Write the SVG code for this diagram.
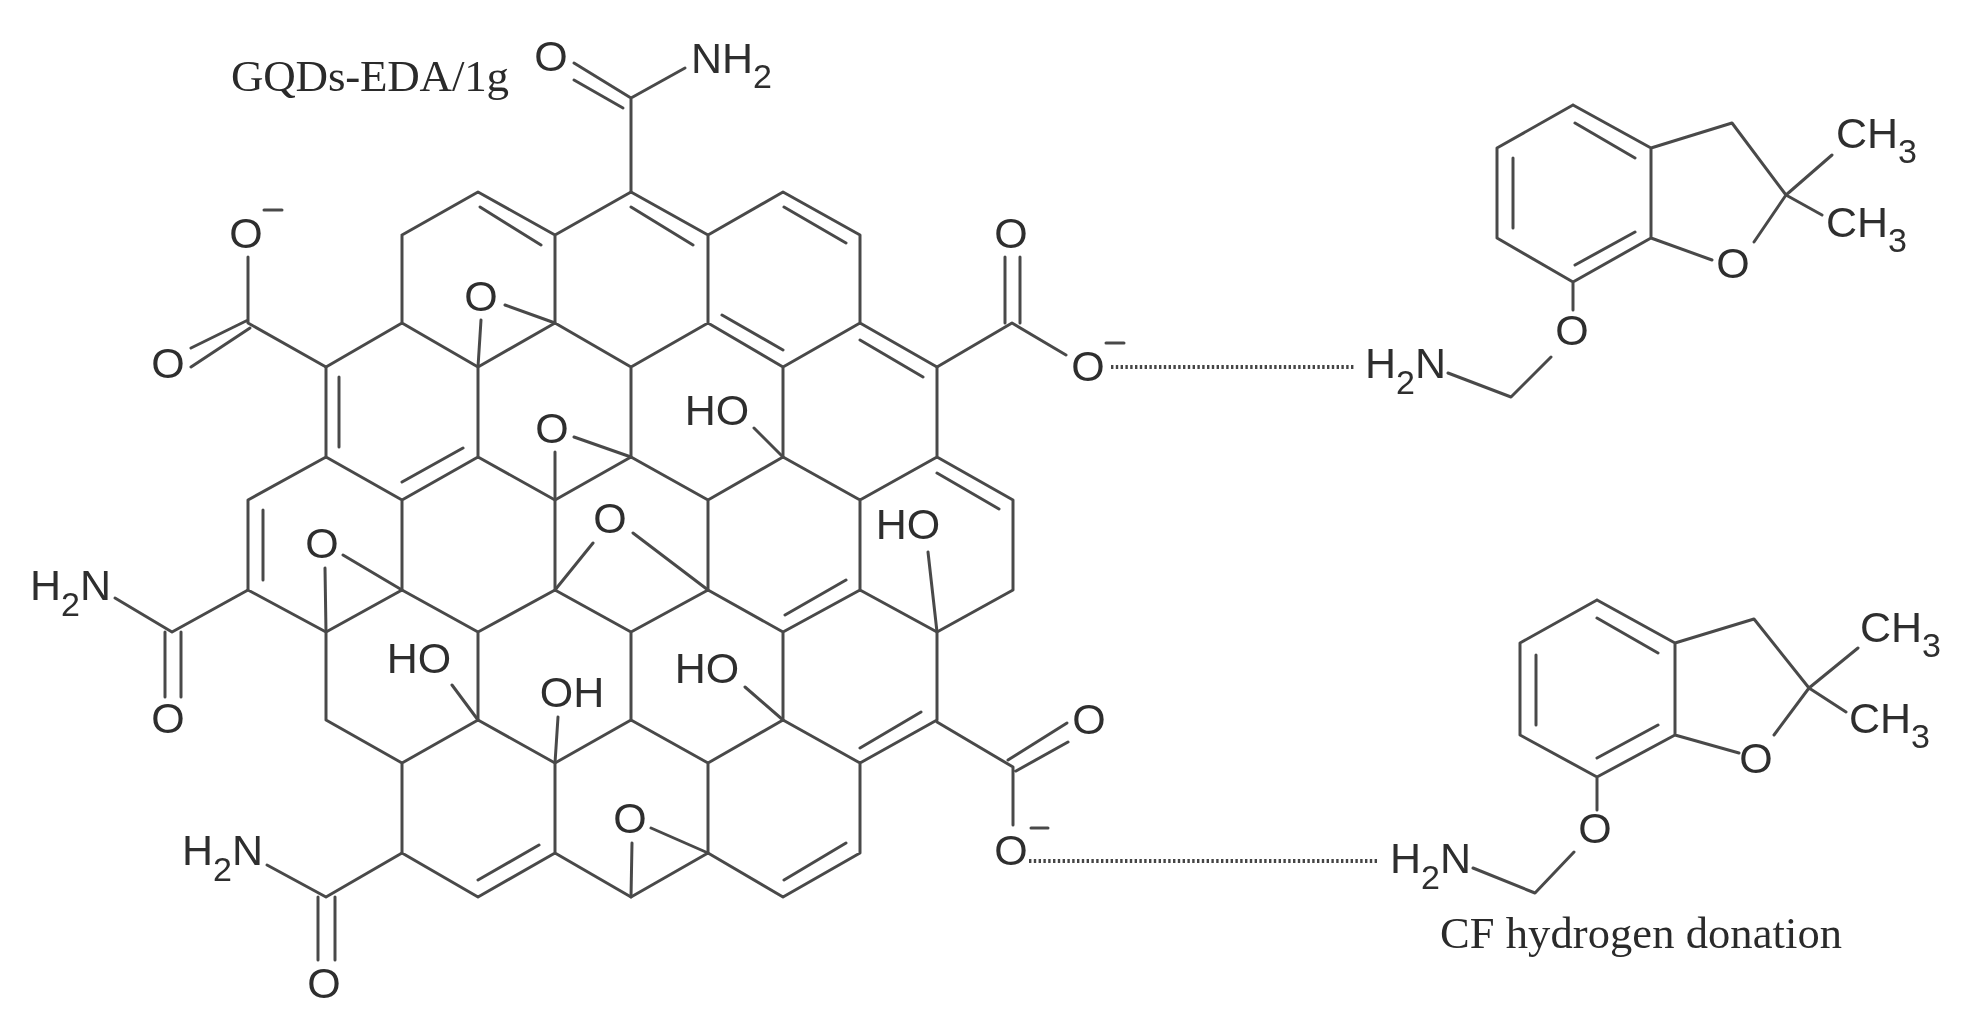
<svg xmlns="http://www.w3.org/2000/svg" width="1970" height="1023" viewBox="0 0 1970 1023">
<style>
.b{fill:none;stroke:#4a4a4a;stroke-width:3;stroke-linecap:round;stroke-linejoin:round}
.d{fill:none;stroke:#444;stroke-width:4.2;stroke-dasharray:2.4 2.4}
text{font-family:"Liberation Sans",Arial,sans-serif;font-size:43px;fill:#2e2e2e}
.m{text-anchor:middle}
.s{font-size:34px}
.c{font-family:"Liberation Serif","Times New Roman",serif;fill:#2a2a2a}
</style>
<defs><filter id="soft" x="0" y="0" width="1" height="1" filterUnits="objectBoundingBox"><feGaussianBlur stdDeviation="0.55"/></filter></defs>
<rect width="1970" height="1023" fill="#fff"/>
<g filter="url(#soft)">
<g id="gqd-lattice">
<path class="b" d="M402 235L478 192L555 235L631 192L708 235L783 192L860 235L860 323L937 367L937 457L1013 500L1013 590L937 632L860 590L860 500L937 457M860 323L783 367L708 323L631 367L555 323L478 367L402 323L402 235M555 235L555 323M708 235L708 323M402 323L326 367L326 457L402 500L478 457L478 367M783 367L783 457L860 500M631 367L631 457L708 500L783 457M478 457L555 500L631 457M326 457L248 500L248 590L326 632L402 590L402 500M555 500L555 590L478 632L402 590M708 500L708 590L631 632L555 590M708 590L783 632L860 590M937 632L937 720L860 763L860 853L783 897L708 853L708 763L783 720L783 632M326 632L326 720L402 763L478 720L478 632M478 720L555 763L631 720L631 632M631 720L708 763M783 720L860 763M402 763L402 853L478 897L555 853L555 763M555 853L631 897L708 853"/>
<path class="b" d="M480 207L541 245M631 207L693 245M784 207L846 243M722 315L783 350M860 340L923 377M937 473L999 509M785 615L846 580M339 377L339 447M402 482L463 448M263 510L263 580M860 748L921 712M478 880L539 845M784 880L846 843"/>
</g>
<g id="epoxides">
<path class="b" d="M481 320L478 367M505 305L555 323M555 452L555 500M574 437L631 457M593 543L555 590M633 533L708 590M325 568L326 632M343 555L402 590M632 843L631 897M651 828L708 853"/>
<text class="m" x="481" y="311">O</text>
<text class="m" x="552" y="443">O</text>
<text class="m" x="610" y="533">O</text>
<text class="m" x="322" y="558">O</text>
<text class="m" x="630" y="833">O</text>
</g>
<g id="hydroxyls">
<path class="b" d="M754 428L783 457M928 552L937 632M452 685L478 720M558 717L555 763M745 687L783 720"/>
<text class="m" x="717" y="425">HO</text>
<text class="m" x="908" y="539">HO</text>
<text class="m" x="419" y="673">HO</text>
<text class="m" x="572" y="707">OH</text>
<text class="m" x="707" y="683">HO</text>
</g>
<g id="amide-top">
<path class="b" d="M631 192L631 98L685 68M574 63L631 98M574 80L623 108"/>
<text class="m" x="551" y="71">O</text>
<text x="691" y="73">NH<tspan class="s" dy="15">2</tspan></text>
</g>
<g id="carboxylate-top-left">
<path class="b" d="M326 367L248 323L248 257M248 320L191 348M250 328L191 367"/>
<text class="m" x="246" y="248">O</text>
<text class="m" x="168" y="378">O</text>
<path class="b" d="M264 210L282 210"/>
</g>
<g id="carboxylate-top-right">
<path class="b" d="M937 367L1012 323L1066 355M1005 323L1005 257M1020 323L1020 257"/>
<text class="m" x="1011" y="248">O</text>
<text class="m" x="1088" y="381">O</text>
<path class="b" d="M1106 343L1124 343"/>
</g>
<g id="amide-left">
<path class="b" d="M248 590L172 632L115 598M165 632L165 697M181 632L181 697"/>
<text x="30" y="600">H<tspan class="s" dy="16">2</tspan><tspan dy="-16">N</tspan></text>
<text class="m" x="168" y="733">O</text>
</g>
<g id="amide-bottom">
<path class="b" d="M402 853L326 897L267 865M318 897L318 960M335 897L335 960"/>
<text x="182" y="865">H<tspan class="s" dy="16">2</tspan><tspan dy="-16">N</tspan></text>
<text class="m" x="324" y="998">O</text>
</g>
<g id="carboxylate-bottom-right">
<path class="b" d="M937 722L1013 767L1013 825M1008 760L1067 723M1016 771L1068 742"/>
<text class="m" x="1089" y="734">O</text>
<text class="m" x="1011" y="865">O</text>
<path class="b" d="M1031 828L1048 828"/>
</g>
<g id="connectors">
<path class="d" d="M1111 367L1354 367M1029 861L1378 861"/>
</g>
<g id="cf-upper">
<path class="b" d="M1573 105L1651 148L1651 238L1573 282L1497 238L1497 148L1573 105M1575 123L1635 158M1513 158L1513 228M1575 265L1635 232M1651 148L1732 123L1786 195L1754 242M1712 260L1651 238M1786 195L1832 155M1786 195L1822 215M1573 282L1573 310M1551 357L1511 397L1448 373"/>
<text class="m" x="1733" y="278">O</text>
<text class="m" x="1572" y="345">O</text>
<text x="1836" y="148">CH<tspan class="s" dy="15">3</tspan></text>
<text x="1826" y="237">CH<tspan class="s" dy="15">3</tspan></text>
<text x="1365" y="378">H<tspan class="s" dy="16">2</tspan><tspan dy="-16">N</tspan></text>
</g>
<g id="cf-lower">
<path class="b" d="M1597 600L1675 643L1675 735L1597 777L1520 735L1520 643L1597 600M1597 618L1658 653M1536 655L1536 725M1597 758L1658 725M1675 643L1754 619L1809 688L1774 735M1739 753L1675 735M1809 688L1858 648M1809 688L1846 712M1597 777L1597 810M1574 852L1535 893L1473 868"/>
<text class="m" x="1756" y="773">O</text>
<text class="m" x="1595" y="843">O</text>
<text x="1860" y="642">CH<tspan class="s" dy="15">3</tspan></text>
<text x="1849" y="733">CH<tspan class="s" dy="15">3</tspan></text>
<text x="1390" y="873">H<tspan class="s" dy="16">2</tspan><tspan dy="-16">N</tspan></text>
</g>
<text class="c" x="231" y="91" style="font-size:45px" textLength="278">GQDs-EDA/1g</text>
<text class="c" x="1440" y="948" style="font-size:44.5px" textLength="402">CF hydrogen donation</text>
</g>
</svg>
